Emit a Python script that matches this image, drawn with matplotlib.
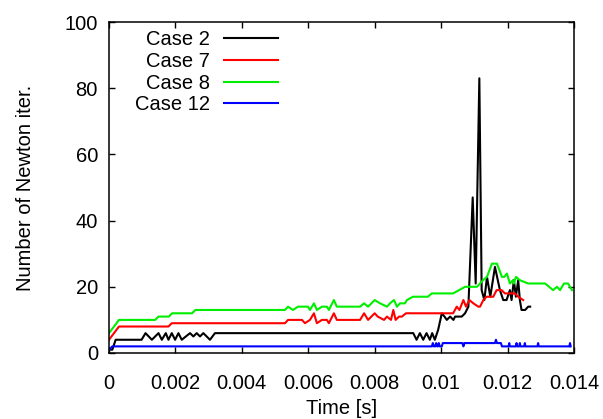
#!/usr/bin/env python3
"""Newton iterations per time step for the four test cases."""

import matplotlib

matplotlib.use("Agg")
import matplotlib.pyplot as plt

plt.rcParams["font.family"] = ["Liberation Sans", "DejaVu Sans"]

# Case 2 (black)
case2_t = [0.0, 0.0001, 0.0002, 0.00098, 0.0011, 0.00129, 0.00149, 0.00159, 0.00171,
           0.00179, 0.00189, 0.00199, 0.00209, 0.00219, 0.00244, 0.00254, 0.00264,
           0.00274, 0.00284, 0.00294, 0.00304, 0.00319, 0.00916, 0.00926, 0.00936,
           0.00946, 0.00956, 0.00966, 0.00973, 0.00981, 0.00991, 0.01002, 0.0101,
           0.01017, 0.01027, 0.01037, 0.01042, 0.01062, 0.01072, 0.01082, 0.01095,
           0.01104, 0.01115, 0.01122, 0.0113, 0.01138, 0.01148, 0.01162, 0.01177,
           0.01187, 0.01197, 0.01207, 0.01212, 0.01219, 0.01225, 0.01232, 0.01237,
           0.01242, 0.01253, 0.01262, 0.01268]
case2_v = [1, 1, 4, 4, 6, 4, 6, 4, 6,
           4, 6, 4, 6, 4, 6, 5, 6,
           5, 6, 5, 4, 6, 6, 4, 6,
           4, 6, 4, 6, 4, 7, 12, 11,
           10, 11, 10, 11, 11, 12, 14, 47,
           21, 83, 19, 16, 23, 17, 26, 19,
           16, 16, 19, 16, 22, 17, 22, 16,
           13, 13, 14, 14]

# Case 7 (red)
case7_t = [0.0, 0.0003, 0.00179, 0.00189, 0.0053, 0.00539, 0.00581, 0.0059, 0.00605,
           0.00617, 0.00626, 0.00641, 0.00656, 0.00662, 0.00677, 0.00686, 0.00756,
           0.00768, 0.0078, 0.008, 0.00809, 0.00828, 0.00837, 0.00849, 0.00856,
           0.00863, 0.00873, 0.00882, 0.00894, 0.01036, 0.01047, 0.01055, 0.01067,
           0.01075, 0.01085, 0.01097, 0.01112, 0.01117, 0.01127, 0.01137, 0.01157,
           0.01167, 0.01182, 0.01192, 0.01202, 0.01222, 0.01232, 0.01247]
case7_v = [4, 8, 8, 9, 9, 10, 10, 9, 10,
           12, 9, 10, 10, 9, 12, 10, 10,
           12, 10, 12, 11, 10, 11, 10, 13,
           10, 11, 11, 12, 12, 14, 13, 16,
           14, 16, 15, 14, 14, 16, 17, 17,
           19, 19, 18, 18, 18, 17, 16]

# Case 8 (green)
case8_t = [0.0, 0.0003, 0.00139, 0.00149, 0.0018, 0.0019, 0.0025, 0.0026, 0.0053,
           0.00539, 0.00554, 0.00569, 0.00599, 0.00605, 0.00617, 0.00626, 0.00641,
           0.00656, 0.00662, 0.00677, 0.00686, 0.00756, 0.00768, 0.0078, 0.008,
           0.00816, 0.00837, 0.00846, 0.00858, 0.00867, 0.00876, 0.00891, 0.00897,
           0.00915, 0.0096, 0.00972, 0.01036, 0.01072, 0.01108, 0.01126, 0.01138,
           0.01153, 0.01168, 0.01183, 0.0119, 0.01198, 0.01207, 0.01216, 0.01219,
           0.01225, 0.01237, 0.01262, 0.01313, 0.01325, 0.01337, 0.01349, 0.01358,
           0.0137, 0.01382, 0.01394]
case8_v = [6, 10, 10, 11, 11, 12, 12, 13, 13,
           14, 13, 14, 14, 13, 15, 13, 14,
           14, 13, 16, 14, 14, 15, 14, 16,
           15, 14, 15, 16, 14, 15, 15, 16,
           17, 17, 18, 18, 20, 20, 22, 23,
           27, 27, 23, 23, 24, 21, 22, 21,
           23, 22, 21, 21, 20, 19, 20, 19,
           21, 21, 19]

# Case 12 (blue)
case12_t = [0.0, 0.0001, 0.00972, 0.00975, 0.00978, 0.00982, 0.00985, 0.00988, 0.0099,
            0.00993, 0.00996, 0.01002, 0.01005, 0.01064, 0.01067, 0.0107, 0.01162,
            0.01165, 0.01168, 0.0118, 0.01183, 0.01203, 0.01205, 0.01207, 0.01225,
            0.01227, 0.01229, 0.01235, 0.01237, 0.01239, 0.0125, 0.01252, 0.01254,
            0.0129, 0.01292, 0.01294, 0.01386, 0.01388, 0.0139]
case12_v = [1, 2, 2, 3, 2, 2, 3, 2, 2,
            3, 2, 2, 3, 3, 2, 3, 3,
            4, 3, 3, 2, 2, 3, 2, 2,
            3, 2, 2, 3, 2, 2, 3, 2,
            2, 3, 2, 2, 3, 2]

x_ticks = [0, 0.002, 0.004, 0.006, 0.008, 0.01, 0.012, 0.014]
x_tick_labels = ["0", "0.002", "0.004", "0.006", "0.008", "0.01", "0.012", "0.014"]
y_ticks = [0, 20, 40, 60, 80, 100]


fig = plt.figure(figsize=(6.03, 4.19), dpi=100)
ax = fig.add_axes([109 / 603, 1 - 353 / 419, 465 / 603, 331 / 419])

ax.plot(case2_t, case2_v, color="black", linewidth=1.5, label="Case 2")
ax.plot(case7_t, case7_v, color="#ff0000", linewidth=1.5, label="Case 7")
ax.plot(case8_t, case8_v, color="#00ee00", linewidth=1.5, label="Case 8")
ax.plot(case12_t, case12_v, color="#0000ff", linewidth=1.5, label="Case 12")

ax.set_xlim(0, 0.014)
ax.set_ylim(0, 100)
ax.set_xticks(x_ticks)
ax.set_xticklabels(x_tick_labels)
ax.set_yticks(y_ticks)
ax.tick_params(direction="in", length=4, width=1.0, top=True, right=True,
               labelsize=14.5, colors="black")
ax.tick_params(axis="x", pad=15)
ax.tick_params(axis="y", pad=8)
for spine in ax.spines.values():
    spine.set_linewidth(1.1)

ax.set_xlabel("Time [s]", fontsize=14.5)
ax.set_ylabel("Number of Newton iter.", fontsize=14.5)
ax.xaxis.set_label_coords(0.5, -0.14)
ax.yaxis.set_label_coords(-0.16, 0.5)

ax.legend(loc="upper right", bbox_to_anchor=(278 / 603, 1 - 30 / 419),
          bbox_transform=fig.transFigure, frameon=False, markerfirst=False,
          fontsize=14.5, handlelength=2.7, handletextpad=0.7, labelspacing=0.14,
          borderpad=0, borderaxespad=0)

fig.savefig("out.png", dpi=100)
